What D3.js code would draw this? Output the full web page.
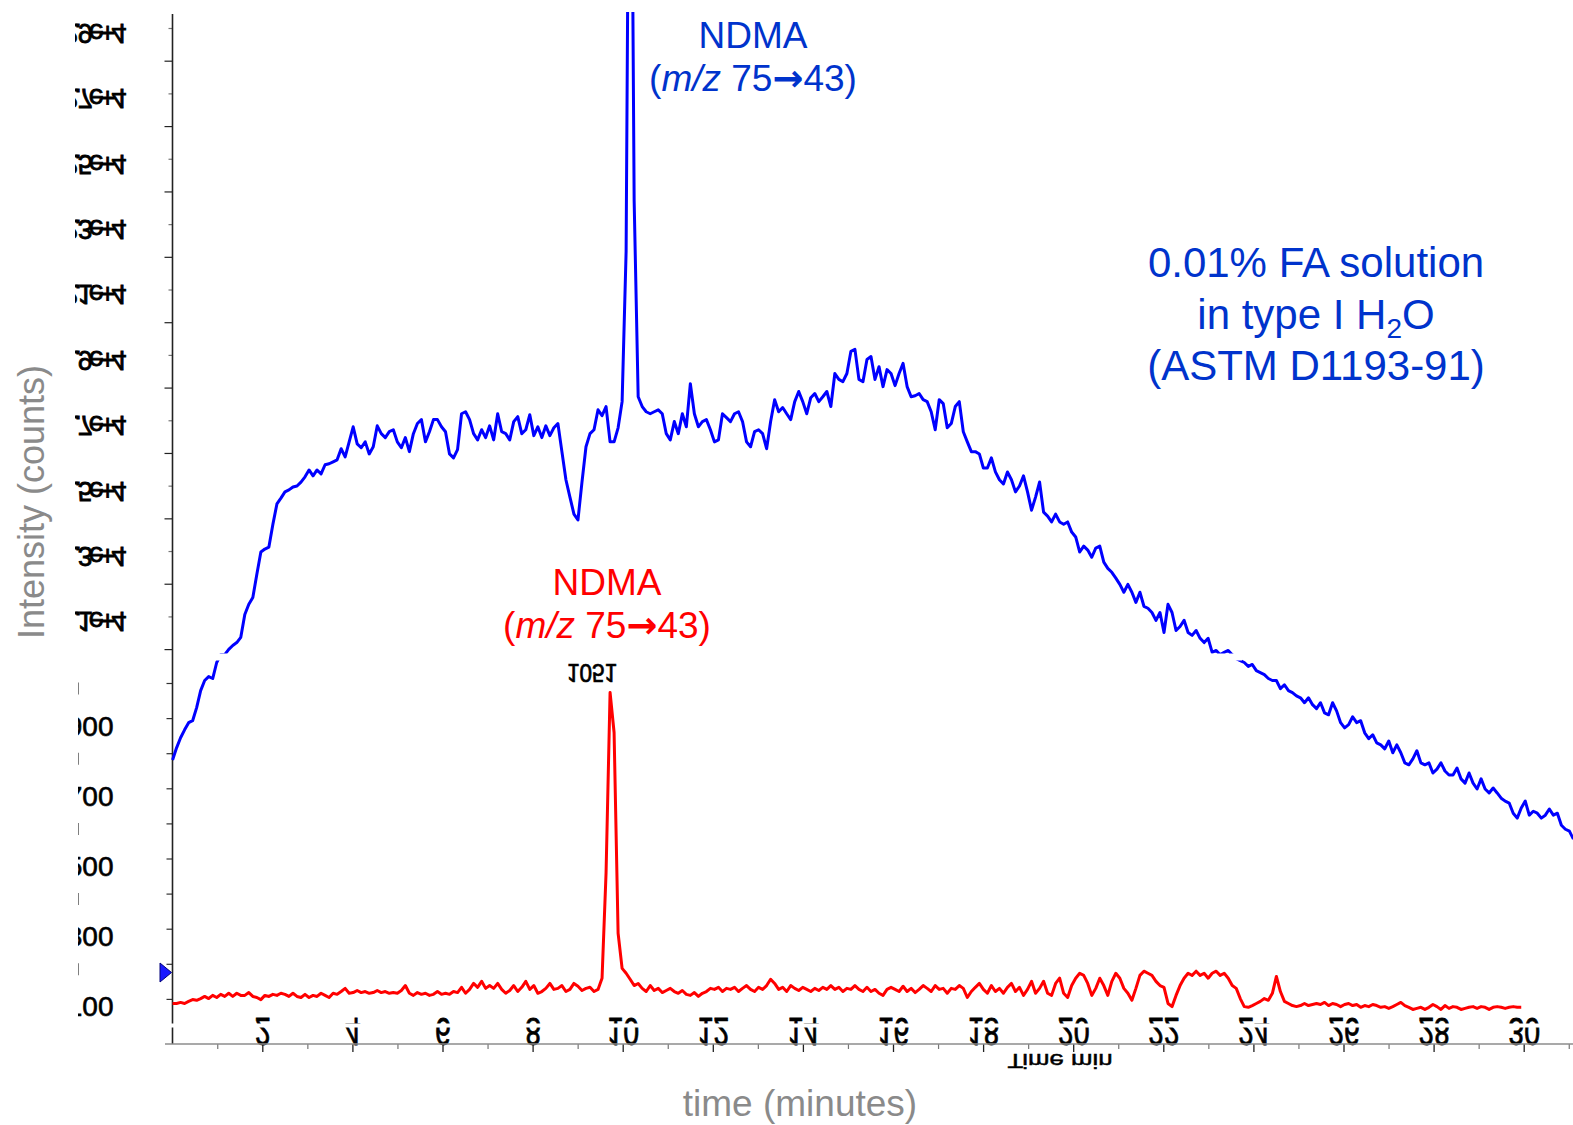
<!DOCTYPE html>
<html>
<head>
<meta charset="utf-8">
<script src="https://cdn.jsdelivr.net/npm/d3@7"></script>
<style>
  html, body { margin: 0; padding: 0; background: #fff; }
  svg { display: block; font-family: "Liberation Sans", Arial, sans-serif; }
</style>
</head>
<body>
<svg id="chart" width="1573" height="1125"></svg>
<script>
// Acquisition grid shared by both traces (minutes)
const scanStart = 0.0078;
const scanStep = 0.0891;

// Time axis ticks (minutes)
const timeTicks = [2, 4, 6, 8, 10, 12, 14, 16, 18, 20, 22, 24, 26, 28, 30];
const timeMinorTicks = [1, 3, 5, 7, 9, 11, 13, 15, 17, 19, 21, 23, 25, 27, 29, 31];

// Intensity axis ticks (counts)
const blueLabelTicks = [11000, 13000, 15000, 17000, 19000, 21000, 23000, 25000, 27000, 29000];
const blueMinorTicks = [10000, 12000, 14000, 16000, 18000, 20000, 22000, 24000, 26000, 28000];
const redLabelTicks = [100, 300, 500, 700, 900];
const redMinorTicks = [200, 400, 600, 800, 1000];

// 0.01% FA solution, NDMA m/z 75->43 (counts)
const blueCounts = [
  6610,6980,7290,7530,7750,7810,8210,8730,9040,9160,
  9100,9590,9830,9830,9990,10110,10200,10360,11060,11370,
  11580,12290,12970,13060,13120,13820,14440,14620,14810,14870,
  14960,14990,15110,15270,15480,15300,15480,15360,15640,15670,
  15730,15790,16130,15880,16340,16800,16280,16160,16340,15970,
  16190,16830,16590,16470,16650,16710,16340,16160,16470,16040,
  16590,16900,17020,16340,16650,17020,17020,16800,16650,15970,
  15850,16100,17200,17260,17020,16590,16400,16710,16470,16830,
  16400,17200,16650,16590,16400,16960,17110,16590,16710,17170,
  16530,16800,16470,16830,16530,16770,16900,16040,15180,14650,
  14130,13950,15110,16190,16590,16710,17320,17140,17420,16340,
  16340,16770,17570,22180,42130,23710,17720,17420,17260,17200,
  17260,17320,17200,16590,16400,16960,16590,17200,16800,18120,
  17200,16800,16960,17020,16710,16340,16400,17200,17080,16960,
  17200,17260,16960,16340,16190,16650,16710,16590,16130,16960,
  17630,17260,17390,17200,17020,17570,17880,17570,17200,17690,
  17820,17570,17720,17880,17420,18430,18250,18180,18430,19110,
  19170,18250,18180,18860,18950,18250,18640,18030,18550,18430,
  18060,18430,18740,18030,17720,17750,17820,17630,17570,17260,
  16710,17630,17510,16770,16900,17420,17570,16650,16340,16040,
  16040,15970,15540,15540,15850,15420,15180,15050,15420,15180,
  14810,14990,15300,14810,14250,14650,15110,14190,14070,13890,
  14130,13890,13820,13890,13580,13430,12970,13150,13030,12810,
  13090,13150,12660,12470,12350,12170,11980,11740,11980,11740,
  11430,11740,11310,11250,11120,10880,11120,10510,11370,11120,
  10570,10690,10880,10510,10420,10570,10330,10200,10330,9900,
  9960,9830,9900,9960,9830,9710,9650,9590,9470,9530,
  9340,9280,9220,9100,9040,9040,8790,8910,8730,8670,
  8570,8510,8360,8510,8300,8180,8360,8050,7990,8360,
  8110,7750,7590,7690,7930,7750,7810,7440,7260,7380,
  7130,7070,6950,7190,6830,7070,6830,6520,6460,6640,
  6890,6520,6460,6520,6210,6330,6520,6270,6150,6150,
  6360,6030,5900,6210,5900,5720,6030,5720,5600,5750,
  5600,5440,5350,5290,4980,4830,5140,5350,4920,5040,
  4980,4830,4920,5110,4920,4980,4610,4490,4430,4190
];

// Type I water blank, NDMA m/z 75->43 (counts)
const redCounts = [
  87,87,90,87,93,98,96,101,107,101,
  110,104,113,107,116,107,116,110,110,118,
  107,104,98,110,107,113,110,116,113,107,
  116,107,104,113,104,110,107,116,110,104,
  116,113,121,130,116,118,124,118,121,116,
  118,124,118,121,116,118,116,124,138,116,
  110,118,113,116,110,113,121,113,116,113,
  121,118,133,116,127,144,133,150,130,138,
  130,144,127,116,124,138,121,133,150,127,
  138,116,121,130,144,127,130,138,121,127,
  144,136,124,130,133,121,127,159,459,973,
  859,287,187,173,156,138,144,130,121,138,
  124,130,118,124,130,121,116,124,113,110,
  118,107,116,121,130,127,133,121,130,127,
  133,121,130,138,127,121,133,127,138,156,
  144,127,133,121,138,130,124,133,127,121,
  130,124,133,127,138,127,133,121,130,127,
  138,127,121,133,121,127,116,110,127,133,
  127,121,136,121,130,118,127,138,130,121,
  138,127,130,116,130,127,138,130,104,121,
  133,144,127,116,138,121,130,116,133,144,
  121,133,110,127,150,116,130,150,116,110,
  144,159,116,104,138,159,173,167,144,110,
  130,159,138,110,150,173,159,130,116,96,
  130,167,179,173,167,150,138,133,87,78,
  110,138,159,173,167,179,167,173,159,173,
  179,167,173,159,138,130,101,78,76,81,
  87,93,101,96,116,164,121,93,87,81,
  78,81,87,81,84,87,84,90,81,87,
  84,78,84,87,81,84,76,81,78,84,
  81,76,78,73,78,84,90,81,76,70,
  73,76,70,76,84,78,70,81,73,78,
  76,70,73,76,78,73,78,76,70,76,
  78,76,73,76,78,76,76
];

const peakScanLabel = "1051";

const BLUE = "#0000ff", RED = "#ff0000", NOTE_BLUE = "#0033cc", GREY = "#8a8a8a";

const svg = d3.select("#chart");
const defs = svg.append("defs");
defs.append("clipPath").attr("id", "plotTop")
  .append("rect").attr("x", 0).attr("y", 12).attr("width", 1573).attr("height", 1113);
defs.append("clipPath").attr("id", "blueLabelClip")
  .append("rect").attr("x", 75).attr("y", 0).attr("width", 1498).attr("height", 1125);
defs.append("clipPath").attr("id", "redLabelClip")
  .append("rect").attr("x", 78).attr("y", 0).attr("width", 1495).attr("height", 1125);

// Scales
const x = d3.scaleLinear().domain([0, 31]).range([172.2, 172.2 + 45.05 * 31]);
const yBlue = d3.scaleLinear().domain([0, 29000]).range([976, 28]);
const yRed = d3.scaleLinear().domain([0, 1000]).range([1034, 683]);

const blueData = blueCounts.map((v, i) => [scanStart + i * scanStep, v]);
const redData = redCounts.map((v, i) => [scanStart + i * scanStep, v]);

// ---- Intensity axis, upper (blue) trace ----
const blueAxisWrap = svg.append("g").attr("clip-path", "url(#blueLabelClip)");
const gBlueMinor = blueAxisWrap.append("g").attr("transform", "translate(172.5,0)")
  .call(d3.axisLeft(yBlue).tickValues(blueMinorTicks).tickSize(8).tickFormat(() => ""));
gBlueMinor.select(".domain").remove();
gBlueMinor.selectAll(".tick line").attr("stroke", "#222").attr("stroke-width", 1.2);

const gBlueMajor = blueAxisWrap.append("g").attr("transform", "translate(172.5,0)")
  .call(d3.axisLeft(yBlue).tickValues(blueLabelTicks).tickSize(4).tickFormat(d3.format(".1e")));
gBlueMajor.select(".domain").remove();
gBlueMajor.selectAll(".tick line").attr("stroke", "#777").attr("stroke-width", 1.2);
gBlueMajor.selectAll(".tick text")
  .attr("x", -50).attr("y", 4.6).attr("dy", null)
  .attr("transform", "scale(1,-1)")
  .attr("text-anchor", "end")
  .attr("font-family", "'Liberation Sans', Arial, sans-serif")
  .attr("font-size", 27).attr("letter-spacing", -4)
  .attr("stroke", "#000").attr("stroke-width", 0.8)
  .attr("fill", "#000");

// ---- Intensity axis, lower (red) trace ----
const redAxisWrap = svg.append("g").attr("clip-path", "url(#redLabelClip)");
const gRedMinor = redAxisWrap.append("g").attr("transform", "translate(172.5,0)")
  .call(d3.axisLeft(yRed).tickValues(redMinorTicks).tickSize(6).tickFormat(() => ""));
gRedMinor.select(".domain").remove();
gRedMinor.selectAll(".tick line").attr("stroke", "#333").attr("stroke-width", 1.2);

const gRedMajor = redAxisWrap.append("g").attr("transform", "translate(172.5,0)")
  .call(d3.axisLeft(yRed).tickValues(redLabelTicks).tickSize(6).tickFormat(d3.format("d")));
gRedMajor.select(".domain").remove();
gRedMajor.selectAll(".tick line").attr("stroke", "#333").attr("stroke-width", 1.2);
gRedMajor.selectAll(".tick text")
  .attr("x", -59).attr("y", 17).attr("dy", null)
  .attr("text-anchor", "end")
  .attr("font-family", "'Liberation Sans', Arial, sans-serif")
  .attr("font-size", 28)
  .attr("stroke", "#000").attr("stroke-width", 0.6)
  .attr("fill", "#000");

// small marks beside the unlabelled lower ticks
gRedMinor.selectAll(".tick").append("line")
  .attr("x1", -95).attr("x2", -95).attr("y1", -1).attr("y2", 11)
  .attr("stroke", "#000").attr("stroke-width", 2);

// vertical axis line through both panels
svg.append("line").attr("x1", 172.5).attr("x2", 172.5).attr("y1", 14).attr("y2", 1044)
  .attr("stroke", "#222").attr("stroke-width", 1.6);

// ---- Time axis ----
const gxMinor = svg.append("g").attr("transform", "translate(0,1044)")
  .call(d3.axisBottom(x).tickValues(timeMinorTicks).tickSize(5).tickSizeOuter(0).tickFormat(() => ""));
gxMinor.select(".domain").remove();
gxMinor.selectAll(".tick line").attr("stroke", "#777").attr("stroke-width", 1.2);

const gx = svg.append("g").attr("transform", "translate(0,1044)")
  .call(d3.axisBottom(x).tickValues(timeTicks).tickSize(8).tickSizeOuter(0).tickFormat(d3.format("d")));
gx.select(".domain").remove();
gx.selectAll(".tick line").attr("stroke", "#222").attr("stroke-width", 1.3);
gx.selectAll(".tick text")
  .attr("y", 26).attr("dy", null)
  .attr("transform", "scale(0.75,-1)")
  .attr("font-family", "'Liberation Sans', Arial, sans-serif")
  .attr("font-size", 38)
  .attr("stroke", "#000").attr("stroke-width", 0.8)
  .attr("fill", "#000");

svg.append("line").attr("x1", 165).attr("x2", 1573).attr("y1", 1044).attr("y2", 1044)
  .attr("stroke", "#8c8c8c").attr("stroke-width", 1.6);

// band splitting the time labels
svg.append("rect").attr("x", 160).attr("y", 1023.5).attr("width", 1413).attr("height", 4)
  .attr("fill", "#fff");

// "Time min" caption of the time axis
svg.append("text")
  .attr("transform", "translate(1060,1054) scale(1,-1)")
  .attr("text-anchor", "middle")
  .attr("font-size", 21)
  .attr("textLength", 105).attr("lengthAdjust", "spacingAndGlyphs")
  .attr("stroke", "#000").attr("stroke-width", 0.5)
  .attr("fill", "#000")
  .text("Time min");

// ---- Traces ----
const line = d3.line().x(d => x(d[0]));

svg.append("path")
  .datum(blueData)
  .attr("clip-path", "url(#plotTop)")
  .attr("fill", "none")
  .attr("stroke", BLUE)
  .attr("stroke-width", 3)
  .attr("stroke-linejoin", "round")
  .attr("d", line.y(d => yBlue(d[1])));

// white edge of the lower panel
svg.append("rect").attr("x", 174).attr("y", 653.5).attr("width", 1068).attr("height", 7)
  .attr("fill", "#fff");

svg.append("path")
  .datum(redData)
  .attr("fill", "none")
  .attr("stroke", RED)
  .attr("stroke-width", 3)
  .attr("stroke-linejoin", "round")
  .attr("d", line.y(d => yRed(d[1])));

// offset marker of the upper trace
svg.append("path")
  .attr("d", "M160,963 L171.5,972.5 L160,982 Z")
  .attr("fill", "#1a1aff").attr("stroke", "#00007a").attr("stroke-width", 1);

// peak scan label
svg.append("text")
  .attr("transform", "translate(592,664) scale(1,-1)")
  .attr("text-anchor", "middle")
  .attr("font-size", 25)
  .attr("textLength", 50).attr("lengthAdjust", "spacingAndGlyphs")
  .attr("stroke", "#000").attr("stroke-width", 0.7)
  .attr("fill", "#000")
  .text(peakScanLabel);

// ---- Annotations ----
function ionLabel(cx, y1, y2, color) {
  svg.append("text").attr("x", cx).attr("y", y1).attr("text-anchor", "middle")
    .attr("font-size", 37).attr("fill", color).text("NDMA");
  const t = svg.append("text").attr("x", cx).attr("y", y2).attr("text-anchor", "middle")
    .attr("font-size", 37).attr("fill", color);
  t.append("tspan").text("(");
  t.append("tspan").attr("font-style", "italic").text("m/z");
  t.append("tspan").text(" 75");
  t.append("tspan").attr("font-family", "'DejaVu Sans', sans-serif").attr("font-weight", "bold").text("\u2192");
  t.append("tspan").text("43)");
}
ionLabel(753, 48, 91, NOTE_BLUE);
ionLabel(607, 595, 638, RED);

const sol = svg.append("g").attr("fill", NOTE_BLUE).attr("font-size", 42).attr("text-anchor", "middle");
sol.append("text").attr("x", 1316).attr("y", 277).text("0.01% FA solution");
const l2 = sol.append("text").attr("x", 1316).attr("y", 329);
l2.append("tspan").text("in type I H");
l2.append("tspan").attr("font-size", 28).attr("dy", 9).text("2");
l2.append("tspan").attr("dy", -9).text("O");
sol.append("text").attr("x", 1316).attr("y", 380).text("(ASTM D1193-91)");

// Axis titles
svg.append("text")
  .attr("transform", "translate(44,502) rotate(-90)")
  .attr("text-anchor", "middle")
  .attr("font-size", 36).attr("fill", GREY)
  .text("Intensity (counts)");
svg.append("text")
  .attr("x", 800).attr("y", 1116)
  .attr("text-anchor", "middle")
  .attr("font-size", 37).attr("fill", GREY)
  .text("time (minutes)");
</script>
</body>
</html>
